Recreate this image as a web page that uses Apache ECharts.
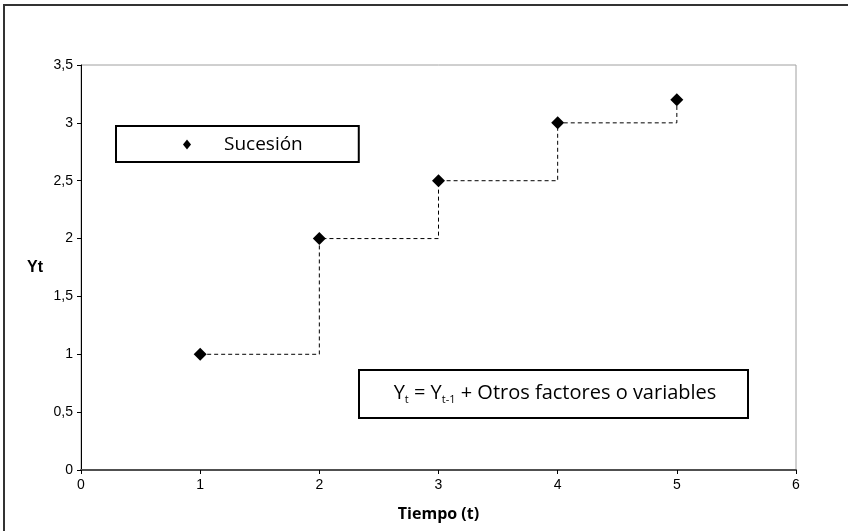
<!DOCTYPE html>
<html><head><meta charset="utf-8">
<script src="https://cdn.jsdelivr.net/npm/echarts@6/dist/echarts.min.js"></script>
<style>html,body{margin:0;padding:0;background:#fff}#c{width:848px;height:531px}</style>
</head><body><div id="c"></div>
<script>
const tiempo = [1, 2, 3, 4, 5];
const yt = [1, 2, 2.5, 3, 3.2];
const seriesName = 'Sucesión';
const xTitle = 'Tiempo (t)';
const yTitle = 'Yt';

const chart = echarts.init(document.getElementById('c'));
const fmt = v => String(v).replace('.', ',');
chart.setOption({
  animation: false,
  backgroundColor: '#fff',
  grid: { left: 81, right: 52, top: 65, bottom: 61, show: true, borderColor: '#a0a0a0', borderWidth: 1 },
  legend: {
    left: 116, top: 126,
    data: [{ name: seriesName, icon: 'diamond' }],
    itemWidth: 8, itemHeight: 10,
    padding: [9, 56, 8, 67],
    borderColor: '#000', borderWidth: 2, backgroundColor: '#fff',
    textStyle: { fontFamily: 'Open Sans', fontSize: 19, color: '#000', padding: [0, 0, 0, 28] },
    selectedMode: false
  },
  xAxis: {
    type: 'value', min: 0, max: 6, interval: 1,
    name: xTitle, nameLocation: 'middle', nameGap: 36,
    nameTextStyle: { fontFamily: 'Open Sans', fontWeight: 'bold', fontSize: 16, color: '#000' },
    axisLine: { show: true, lineStyle: { color: '#505050', width: 2 } },
    axisTick: { show: true, length: 4, lineStyle: { color: '#000' } },
    axisLabel: { fontFamily: 'Liberation Sans', fontSize: 14, color: '#000', margin: 8 },
    splitLine: { show: false }
  },
  yAxis: {
    type: 'value', min: 0, max: 3.5, interval: 0.5,
    name: yTitle, nameLocation: 'middle', nameGap: 38, nameRotate: 0,
    nameTextStyle: { fontFamily: 'Liberation Sans', fontWeight: 'bold', fontSize: 16, color: '#000' },
    axisLine: { show: true, lineStyle: { color: '#000', width: 1 } },
    axisTick: { show: true, length: 4, lineStyle: { color: '#000' } },
    axisLabel: { fontFamily: 'Liberation Sans', fontSize: 14, color: '#000', margin: 8, formatter: fmt },
    splitLine: { show: false }
  },
  series: [{
    name: seriesName,
    type: 'line',
    step: 'end',
    data: tiempo.map((t, i) => [t, yt[i]]),
    symbol: 'diamond', symbolSize: [13, 13],
    itemStyle: { color: '#000' },
    lineStyle: { color: '#000', width: 1, type: [4, 3] }
  }],
  graphic: [
    { type: 'rect', x: 4, y: 5, shape: { width: 900, height: 600 }, style: { fill: 'none', stroke: '#333', lineWidth: 2 }, silent: true },
    { type: 'rect', x: 359, y: 370, shape: { width: 389, height: 48 }, style: { fill: '#fff', stroke: '#000', lineWidth: 2 }, z: 10 },
    { type: 'text', x: 555, y: 393, z: 11,
      style: {
        text: 'Y{s|t} = Y{s|t-1} + Otros factores o variables',
        x: 0, y: 0, align: 'center', verticalAlign: 'middle',
        fontFamily: 'Open Sans', fontSize: 20, fill: '#000',
        rich: { s: { fontFamily: 'Open Sans', fontSize: 11, padding: [13, 0, 0, 0], fill: '#000' } }
      }
    }
  ]
});
</script></body></html>
